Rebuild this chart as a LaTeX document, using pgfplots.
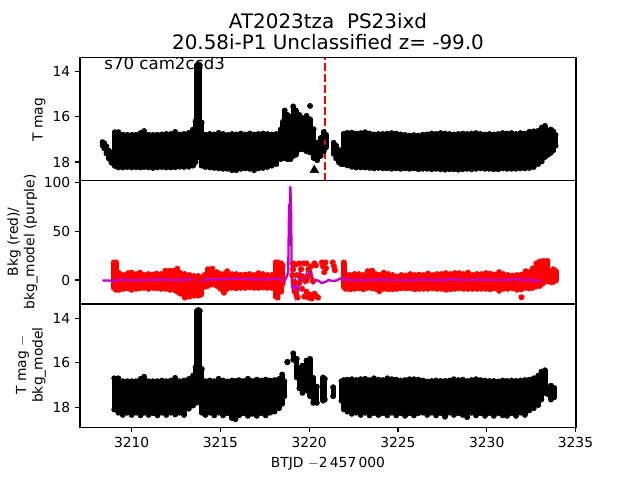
\documentclass[border=0pt]{standalone}
\usepackage{pgfplots}
\usepackage{pgfplotstable}
\usepackage{fontspec}
\setmainfont{DejaVu Sans}
\pgfplotsset{compat=1.18}
\definecolor{pur}{RGB}{192,0,200}
\pgfplotstableread{
x hi lo
3208.36 17.12 17.26
3208.46 17.17 17.40
3208.58 17.31 17.62
3208.72 17.50 17.85
3208.86 17.75 18.03
3209.05 16.68 18.17
3209.25 16.68 18.24
3209.50 16.79 18.24
3209.75 16.80 18.22
3210.00 16.80 18.24
3210.25 16.79 18.23
3210.50 16.72 18.24
3210.70 16.63 18.22
3210.95 16.79 18.24
3211.20 16.80 18.26
3211.45 16.79 18.24
3211.70 16.78 18.22
3211.95 16.76 18.24
3212.20 16.76 18.24
3212.45 16.67 18.23
3212.70 16.78 18.21
3212.95 16.76 18.22
3213.22 16.71 18.21
3213.46 16.56 18.16
3213.60 16.20 18.00
3213.68 13.72 17.80
3213.76 13.68 17.60
3213.84 13.72 17.80
3213.94 16.25 18.16
3214.15 16.79 18.22
3214.40 16.76 18.24
3214.65 16.78 18.26
3214.90 16.71 18.28
3215.15 16.76 18.30
3215.40 16.80 18.30
3215.65 16.76 18.36
3215.90 16.78 18.36
3216.15 16.74 18.30
3216.40 16.78 18.28
3216.65 16.74 18.30
3216.90 16.78 18.36
3217.15 16.76 18.28
3217.40 16.74 18.26
3217.65 16.76 18.22
3217.90 16.78 18.16
3218.15 16.76 18.09
3218.40 16.56 17.87
3218.52 16.22 17.73
3218.62 15.72 17.83
3218.78 15.92 17.87
3218.95 16.02 17.87
3219.10 15.54 17.73
3219.25 15.72 17.68
3219.45 15.92 17.44
3219.65 16.06 17.44
3219.85 15.96 17.53
3220.05 16.11 17.58
3220.25 16.55 17.82
3220.45 17.14 17.92
3220.65 16.94 17.73
3220.82 16.67 17.53
3220.95 16.80 17.35
3221.38 17.15 17.64
3221.52 17.28 17.84
3221.68 17.47 18.02
3221.80 17.66 18.09
3221.95 16.75 18.09
3222.15 16.71 18.15
3222.40 16.70 18.21
3222.65 16.74 18.24
3222.90 16.72 18.24
3223.15 16.68 18.24
3223.40 16.74 18.26
3223.65 16.78 18.28
3223.90 16.76 18.26
3224.15 16.76 18.28
3224.40 16.74 18.28
3224.65 16.72 18.30
3224.90 16.74 18.28
3225.15 16.78 18.30
3225.40 16.80 18.28
3225.65 16.83 18.30
3225.90 16.81 18.28
3226.15 16.83 18.32
3226.40 16.79 18.30
3226.65 16.78 18.30
3226.90 16.74 18.32
3227.15 16.76 18.30
3227.40 16.72 18.32
3227.65 16.74 18.34
3227.90 16.76 18.32
3228.15 16.78 18.32
3228.40 16.76 18.34
3228.65 16.74 18.32
3228.90 16.76 18.30
3229.15 16.74 18.32
3229.40 16.72 18.30
3229.65 16.76 18.28
3229.90 16.78 18.30
3230.15 16.76 18.30
3230.40 16.78 18.32
3230.65 16.76 18.32
3230.90 16.72 18.28
3231.15 16.74 18.30
3231.40 16.72 18.30
3231.65 16.76 18.30
3231.90 16.72 18.28
3232.15 16.74 18.28
3232.40 16.66 18.26
3232.65 16.64 18.22
3232.90 16.62 18.09
3233.10 16.48 17.97
3233.28 16.40 17.78
3233.45 16.68 17.68
3233.60 16.56 17.60
3233.75 16.64 17.48
3233.88 16.80 17.28
}\Tone
\pgfplotstableread{
x hi lo
3209.00 18.0 -8.0
3209.12 18.0 -10.0
3209.30 7.0 -10.0
3209.55 5.0 -9.0
3209.80 7.0 -8.5
3210.00 7.5 -10.0
3210.25 6.0 -9.0
3210.47 7.5 -8.5
3210.70 5.0 -8.0
3210.95 6.0 -9.0
3211.20 5.5 -8.0
3211.40 6.5 -8.5
3211.65 6.0 -9.0
3211.90 9.5 -9.0
3212.15 9.5 -10.0
3212.40 9.5 -10.0
3212.57 11.5 -12.0
3212.75 7.0 -14.0
3213.00 6.0 -18.0
3213.25 5.0 -17.0
3213.50 4.0 -16.0
3213.75 4.0 -16.0
3213.90 2.0 -15.0
3214.10 5.0 -7.0
3214.30 11.0 -6.0
3214.55 11.5 -4.5
3214.80 8.0 -6.0
3215.00 6.0 -9.0
3215.20 6.0 -13.0
3215.38 9.0 -9.0
3215.65 6.0 -8.0
3215.90 6.0 -8.5
3216.15 5.0 -8.0
3216.40 5.5 -8.0
3216.65 6.0 -7.5
3216.90 5.0 -8.0
3217.15 7.0 -8.0
3217.40 6.0 -7.5
3217.65 5.0 -8.0
3217.90 5.0 -8.0
3218.12 18.0 -17.0
3218.22 18.0 -18.0
3218.42 17.0 -12.0
3218.50 15.0 -4.0
3221.95 18.0 -7.0
3222.05 6.0 -9.0
3222.30 5.0 -9.5
3222.55 6.0 -9.0
3222.80 6.0 -8.5
3223.05 5.0 -9.5
3223.30 9.0 -8.0
3223.55 9.5 -8.5
3223.75 6.0 -9.0
3223.95 5.0 -11.5
3224.20 7.5 -9.0
3224.45 6.0 -9.5
3224.70 5.0 -9.5
3224.95 3.5 -9.0
3225.20 5.0 -8.5
3225.45 4.5 -8.5
3225.70 6.0 -8.5
3225.95 5.0 -9.5
3226.20 5.5 -9.0
3226.45 5.0 -9.0
3226.70 6.5 -9.0
3226.95 5.0 -8.5
3227.20 6.0 -9.0
3227.45 6.0 -9.0
3227.70 7.0 -10.0
3227.95 6.0 -9.5
3228.20 7.0 -9.0
3228.45 7.0 -8.5
3228.70 6.0 -9.0
3228.95 7.5 -9.0
3229.20 5.0 -9.0
3229.45 6.0 -9.0
3229.70 6.0 -9.0
3229.95 7.0 -9.0
3230.20 6.5 -9.5
3230.45 5.5 -8.5
3230.70 8.0 -11.0
3230.95 6.0 -9.0
3231.20 5.0 -9.0
3231.45 4.5 -8.5
3231.70 5.0 -10.0
3231.95 5.5 -9.5
3232.20 9.0 -8.0
3232.40 8.0 -8.5
3232.60 12.0 -8.0
3232.80 17.0 -6.5
3233.00 19.0 -6.0
3233.20 19.5 -3.0
3233.42 19.5 -1.0
3233.60 9.0 -2.0
3233.75 11.0 -2.0
3233.90 9.0 -0.5
}\Ttwo
\pgfplotstableread{
x hi lo
3209.02 16.70 18.10
3209.25 16.70 18.24
3209.50 16.83 18.34
3209.75 16.83 18.24
3210.00 16.83 18.34
3210.25 16.83 18.24
3210.50 16.73 18.36
3210.70 16.63 18.24
3210.95 16.83 18.34
3211.20 16.83 18.26
3211.45 16.83 18.36
3211.70 16.80 18.24
3211.95 16.83 18.34
3212.20 16.80 18.24
3212.45 16.68 18.32
3212.70 16.83 18.24
3212.95 16.80 18.34
3213.22 16.73 18.06
3213.46 16.58 17.92
3213.60 16.20 17.80
3213.68 13.68 17.64
3213.76 13.64 17.55
3213.84 13.68 17.80
3213.95 16.28 18.24
3214.15 16.83 18.34
3214.40 16.80 18.24
3214.65 16.83 18.36
3214.90 16.72 18.24
3215.15 16.80 18.36
3215.40 16.84 18.26
3215.65 16.80 18.48
3215.85 16.82 18.53
3216.05 16.78 18.36
3216.30 16.82 18.26
3216.55 16.72 18.38
3216.80 16.82 18.29
3217.05 16.76 18.38
3217.30 16.80 18.26
3217.55 16.76 18.36
3217.80 16.80 18.24
3218.05 16.78 18.19
3218.30 16.73 18.04
3218.48 16.53 17.84
3218.60 16.83 17.50
3218.77 15.96 15.98
3219.10 15.58 15.87
3219.30 15.83 16.66
3219.45 16.23 17.15
3219.62 16.13 17.35
3219.85 15.90 17.25
3220.05 15.83 17.50
3220.23 16.68 17.80
3220.43 17.07 17.80
3220.78 16.66 17.70
3220.88 16.73 17.65
3221.35 17.10 17.50
3221.82 16.83 17.70
3221.95 16.78 18.09
3222.15 16.76 18.19
3222.40 16.74 18.29
3222.65 16.78 18.24
3222.90 16.74 18.34
3223.15 16.72 18.24
3223.40 16.78 18.36
3223.65 16.70 18.26
3223.90 16.76 18.34
3224.15 16.78 18.26
3224.40 16.70 18.36
3224.65 16.74 18.24
3224.90 16.76 18.36
3225.15 16.80 18.26
3225.40 16.78 18.38
3225.65 16.74 18.26
3225.90 16.74 18.36
3226.15 16.76 18.26
3226.40 16.80 18.24
3226.65 16.84 18.34
3226.90 16.82 18.24
3227.15 16.80 18.36
3227.40 16.82 18.26
3227.65 16.82 18.42
3227.90 16.80 18.24
3228.15 16.74 18.34
3228.40 16.78 18.26
3228.65 16.76 18.34
3228.90 16.82 18.44
3229.15 16.78 18.24
3229.40 16.74 18.36
3229.65 16.78 18.26
3229.90 16.80 18.38
3230.15 16.82 18.26
3230.40 16.82 18.38
3230.65 16.84 18.26
3230.90 16.80 18.36
3231.15 16.82 18.38
3231.40 16.80 18.26
3231.65 16.82 18.38
3231.90 16.80 18.24
3232.15 16.78 18.34
3232.40 16.76 18.14
3232.65 16.70 18.04
3232.90 16.58 17.90
3233.08 16.40 17.65
3233.28 16.34 17.35
3233.42 17.18 17.40
3233.62 17.03 17.65
3233.80 17.13 17.55
}\Tthree
\begin{document}
\begin{tikzpicture}
\path[use as bounding box] (0,0) rectangle (6.4in,4.8in);
\pgfplotsset{every axis/.append style={
  scale only axis, width=4.96in, height=1.232in, anchor=south west,
  xmin=3207.09, xmax=3235.03,
  axis line style={line width=0.8pt}, tick style={line width=0.8pt,black},
  tick align=outside, major tick length=3.5pt, xtick pos=lower, ytick pos=left,
  tick label style={font=\fontsize{10}{12}\selectfont},
  /pgf/number format/assume math mode=true,
  /pgf/number format/1000 sep={},
  xtick={3210,3215,3220,3225,3230,3235},
}}
% top panel
\begin{axis}[at={(0.8in,2.992in)}, y dir=reverse, ymin=13.38, ymax=18.83, ytick={14,16,18}, xticklabels={}, xtick=\empty]
\addplot[black, only marks, mark=*, mark size=1.9pt,
  error bars/.cd, y dir=plus, y explicit, error mark=none, error bar style={line width=3.8pt,black}]
  table[x=x,y=hi,y error expr=\thisrow{lo}-\thisrow{hi}] {\Tone};
\addplot[black, only marks, mark=*, mark size=1.9pt] table[x=x,y=lo] {\Tone};
\addplot[black, only marks, mark=*, mark size=1.9pt] coordinates {(3220.05,15.52)};
\addplot[black, only marks, mark=triangle*, mark size=3.6pt] coordinates {(3220.29,18.36)};
\addplot[red, line width=1.5pt, dash pattern=on 5.55pt off 2.4pt] coordinates {(3220.9,18.83) (3220.9,13.38)};
\node[anchor=west, inner sep=0pt, font=\fontsize{12}{14}\selectfont] at (axis cs:3208.45,13.64) {s70 cam2ccd3};
\end{axis}
% middle panel
\begin{axis}[at={(0.8in,1.76in)}, ymin=-24.6, ymax=101.7, ytick={0,50,100}, xticklabels={}, xtick=\empty]
\addplot[red, only marks, mark=*, mark size=1.95pt,
  error bars/.cd, y dir=minus, y explicit, error mark=none, error bar style={line width=3.9pt,red}]
  table[x=x,y=hi,y error expr=\thisrow{hi}-\thisrow{lo}] {\Ttwo};
\addplot[red, only marks, mark=*, mark size=1.95pt] table[x=x,y=lo] {\Ttwo};
\addplot[red, only marks, mark=*, mark size=1.95pt] coordinates {
(3219.10,17)(3219.10,11)(3219.25,16)(3219.45,17)(3219.55,11)(3219.70,17)(3219.85,17)(3219.95,11)(3220.10,14)(3220.30,17)(3220.38,15)
(3219.05,5)(3219.15,-2)(3219.30,5)(3219.45,-3)(3219.60,4)(3219.80,-1)(3220.00,4)(3220.20,-1)
(3219.20,-12)(3219.28,-16)(3219.35,-18)(3219.60,-9)(3219.72,-17)(3219.85,-12)(3219.95,-18)(3220.05,-15)(3220.15,-19)(3220.30,-14)(3220.42,-17)(3220.50,-18)
(3220.72,18)(3220.78,14)(3220.85,8)(3220.92,18)(3220.95,12)(3221.33,18)(3221.40,14)(3221.45,10)
(3231.96,-17.7)
};
\addplot[pur, line width=1.7pt] coordinates {
(3208.35,-0.5)(3208.7,-0.5)(3208.95,-1)(3209.1,-0.5)(3209.4,0.5)(3209.8,0)(3210.2,-0.5)(3210.7,0)(3211.2,0)(3211.7,0.5)(3212.2,0)(3212.7,0)(3213.2,0.5)(3213.45,1)(3213.65,4)(3213.85,-1)(3214.2,0.5)(3214.6,1)(3215.0,0.5)(3215.5,1)(3216.0,1.5)(3216.5,1)(3217.0,0.5)(3217.5,0.5)(3218.0,1.5)(3218.35,1)
(3218.58,-3)(3218.66,1)(3218.75,4)(3218.82,9)(3218.87,78)(3218.90,60)(3218.94,96)(3218.98,70)(3219.02,-2)(3219.06,-8)(3219.12,-3)(3219.20,-13)(3219.26,-2)(3219.32,-5)(3219.38,-10)(3219.46,8)(3219.55,-2)(3219.65,2)(3219.75,-2)(3219.85,6)(3219.95,1)(3220.05,12)(3220.14,6)(3220.25,-3)(3220.40,0)(3220.55,-1)(3220.70,-3)(3220.90,-2)(3221.10,0)(3221.30,-1)(3221.55,-0.5)(3221.75,1.5)(3221.95,0.5)(3222.5,0)(3223.0,-0.5)(3223.5,0)(3224.0,0.5)(3224.5,0)(3225.0,0)(3225.5,-0.5)(3226.0,0)(3226.5,0.5)(3227.0,0)(3227.5,-0.5)(3228.0,1)(3228.5,0)(3229.0,0)(3229.5,0.5)(3230.0,0)(3230.5,0)(3231.0,0)(3231.5,0.5)(3231.8,1)(3232.2,-0.5)(3232.6,0)(3232.9,-1)(3233.2,-2)(3233.5,-3)(3233.85,-1)
};
\end{axis}
% bottom panel
\begin{axis}[at={(0.8in,0.528in)}, y dir=reverse, ymin=13.37, ymax=18.89, ytick={14,16,18}]
\addplot[black, only marks, mark=*, mark size=1.9pt,
  error bars/.cd, y dir=plus, y explicit, error mark=none, error bar style={line width=3.8pt,black}]
  table[x=x,y=hi,y error expr=\thisrow{lo}-\thisrow{hi}] {\Tthree};
\addplot[black, only marks, mark=*, mark size=1.9pt] table[x=x,y=lo] {\Tthree};
\end{axis}
% texts
\node[font=\fontsize{14.4}{17}\selectfont] at (3.28in,4.59in) {AT2023tza\ \ PS23ixd};
\node[font=\fontsize{14.4}{17}\selectfont] at (3.28in,4.38in) {20.58i-P1 Unclassified z= -99.0};
\node[font=\fontsize{10}{12}\selectfont] at (3.28in,0.16in) {BTJD $-$2\,457\,000};
\node[rotate=90, font=\fontsize{10}{12}\selectfont] at (0.39in,3.60in) {T mag};
\node[rotate=90, font=\fontsize{10}{12}\selectfont, align=center] at (0.225in,2.38in) {Bkg (red)/\\bkg\_model (purple)};
\node[rotate=90, font=\fontsize{10}{12}\selectfont, align=center] at (0.31in,1.15in) {T mag $-$\\bkg\_model};
\end{tikzpicture}
\end{document}
